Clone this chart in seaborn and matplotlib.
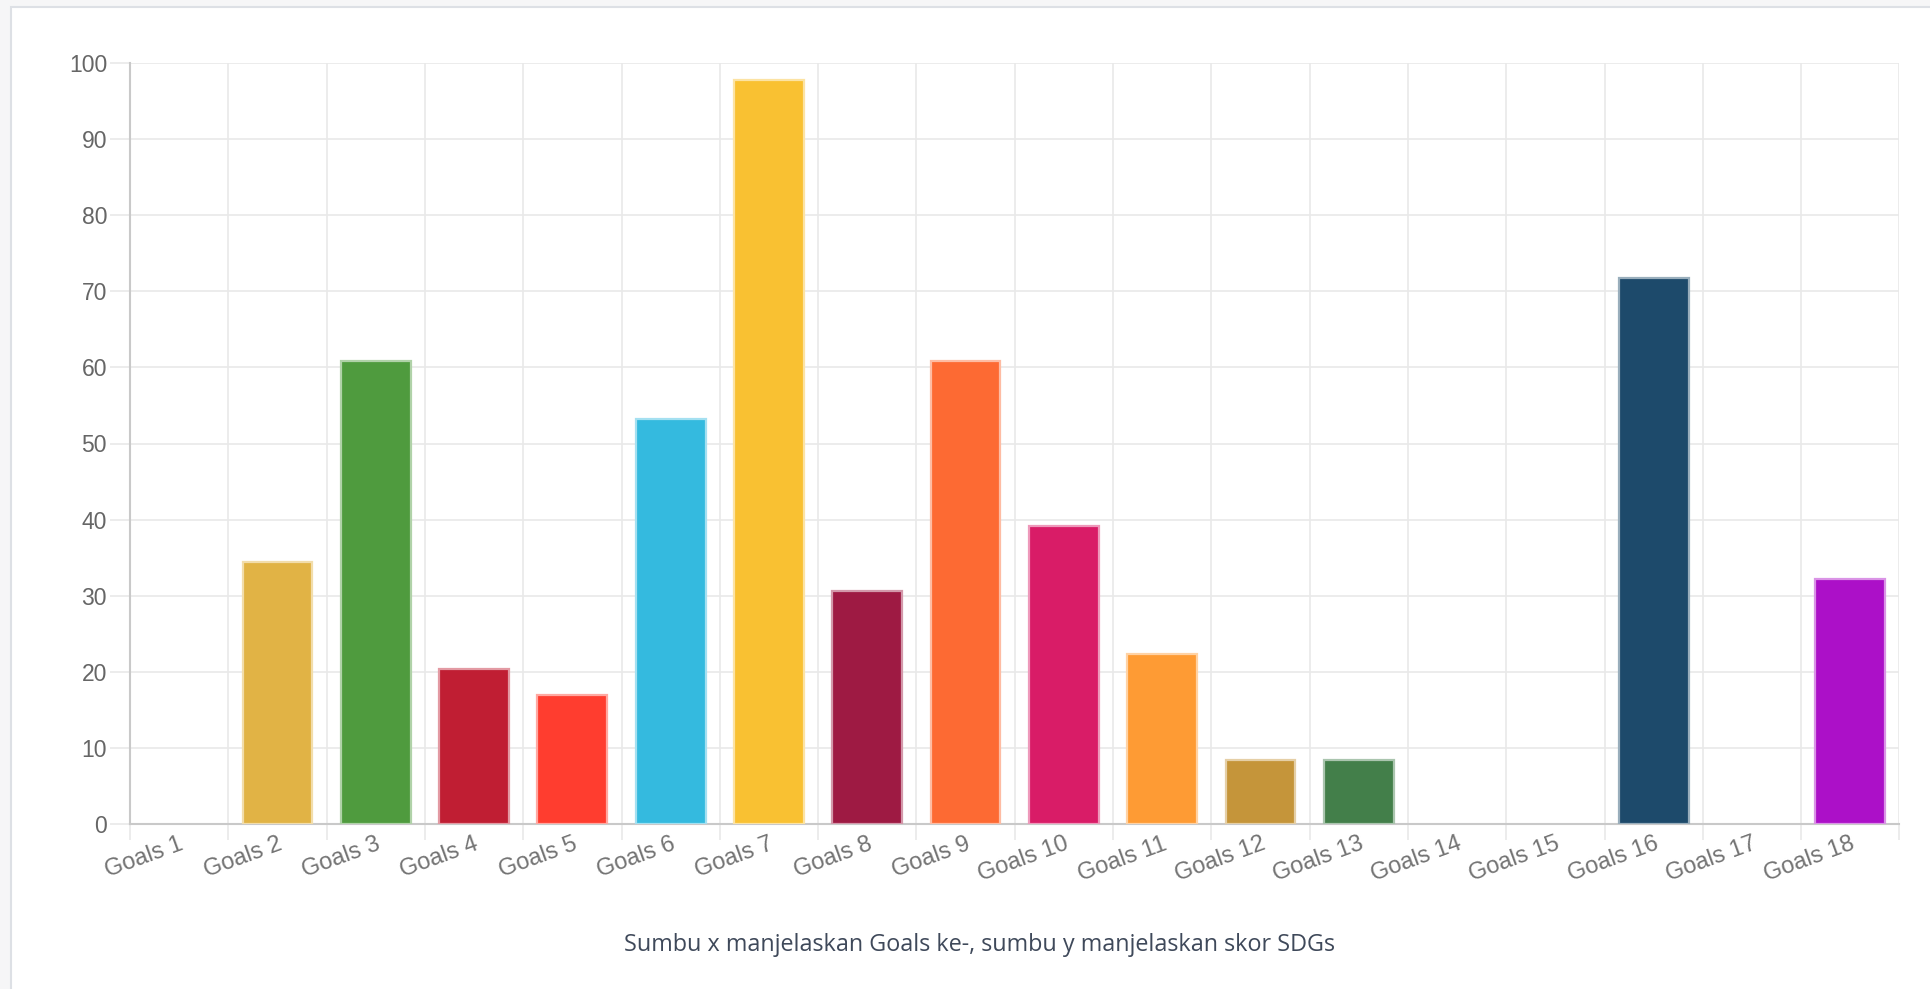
import numpy as np
import matplotlib
matplotlib.use("Agg")
import matplotlib.pyplot as plt
import matplotlib.patches as mpatches
from matplotlib.colors import to_rgb
import seaborn as sns

goals = ["Goals 1", "Goals 2", "Goals 3", "Goals 4", "Goals 5", "Goals 6", "Goals 7",
         "Goals 8", "Goals 9", "Goals 10", "Goals 11", "Goals 12", "Goals 13", "Goals 14",
         "Goals 15", "Goals 16", "Goals 17", "Goals 18"]
scores = [0, 34.4, 60.8, 20.4, 17.0, 53.2, 97.8, 30.6, 60.8, 39.1, 22.3, 8.4, 8.4, 0, 0, 71.7, 0, 32.2]
colors = ["#E5243B", "#E1B345", "#4F9B3E", "#C01E33", "#FF3D2F", "#34BADF", "#F9C132",
          "#9E1A43", "#FD6A33", "#D91C67", "#FE9B34", "#C5953A", "#437F4A", "#0A97D9",
          "#56C02B", "#1D4A6B", "#19486A", "#AC10C8"]
y_ticks = list(range(0, 101, 10))
caption = "Sumbu x manjelaskan Goals ke-, sumbu y manjelaskan skor SDGs"

sns.set_theme(style="white")
plt.rcParams["font.family"] = ["Liberation Sans", "DejaVu Sans"]

W, H = 1931, 989
fig = plt.figure(figsize=(W / 100, H / 100), dpi=100)
fig.patch.set_facecolor("#f6f6f7")
frame = mpatches.Rectangle((11 / W, -0.02), 1.0, 1 - 7 / H + 0.02, transform=fig.transFigure,
                           facecolor="white", edgecolor="#dde0e5", linewidth=1.5, zorder=-10)
fig.add_artist(frame)

ax = fig.add_axes([130 / W, 1 - 824 / H, (1899.5 - 130) / W, (824 - 63) / H])
ax.set_facecolor("none")
ax.set_zorder(1)

sns.barplot(x=goals, y=scores, hue=goals, palette=dict(zip(goals, colors)),
            width=0.71, legend=False, ax=ax, saturation=1)

for cont, c, v in zip(ax.containers, colors, scores):
    for p in cont:
        r, g, b = to_rgb(c)
        light = (r + (1 - r) * 0.55, g + (1 - g) * 0.55, b + (1 - b) * 0.55)
        p.set_edgecolor(light)
        p.set_linewidth(1.6 if v > 0 else 0)
        p.set_zorder(3)

grid_c = "#e9e9e9"
axis_c = "#c9c9c9"
ax.set_xlim(-0.5, 17.5)
ax.set_ylim(0, 100)
ax.set_yticks(y_ticks)
ax.set_yticklabels([str(t) for t in y_ticks])
ax.set_xticks(range(len(goals)))
ax.set_xticklabels(goals)
ax.set_xticks(np.arange(-0.5, len(goals), 1), minor=True)
ax.set_axisbelow(True)
ax.yaxis.grid(True, color=grid_c, linewidth=1.2)
ax.xaxis.grid(True, which="minor", color=grid_c, linewidth=1.2)
ax.xaxis.grid(False, which="major")

ax.tick_params(axis="y", which="major", length=14.5, width=1.2, color=grid_c, pad=2,
               labelsize=16.5, labelcolor="#666666", left=True)
ax.tick_params(axis="x", which="major", length=0, pad=6.5, labelsize=17, labelcolor="#737373")
ax.tick_params(axis="x", which="minor", length=11.5, width=1.2, color=grid_c, bottom=True)
plt.setp(ax.get_xticklabels(), rotation=20, ha="right", va="top", rotation_mode="anchor")

for s in ["top", "right"]:
    ax.spines[s].set_visible(False)
for s in ["left", "bottom"]:
    ax.spines[s].set_color(axis_c)
    ax.spines[s].set_linewidth(1.5)
ax.yaxis.get_major_ticks()[0].tick1line.set_color(axis_c)
ax.xaxis.get_minor_ticks()[0].tick1line.set_color(axis_c)
ax.set_xlabel("")
ax.set_ylabel("")

fig.text(979 / W, 1 - 945 / H, caption, ha="center", va="center", fontsize=16.8,
         color="#3f495a", family=["Open Sans", "DejaVu Sans"])

fig.savefig("out.png", dpi=100, facecolor=fig.get_facecolor())
